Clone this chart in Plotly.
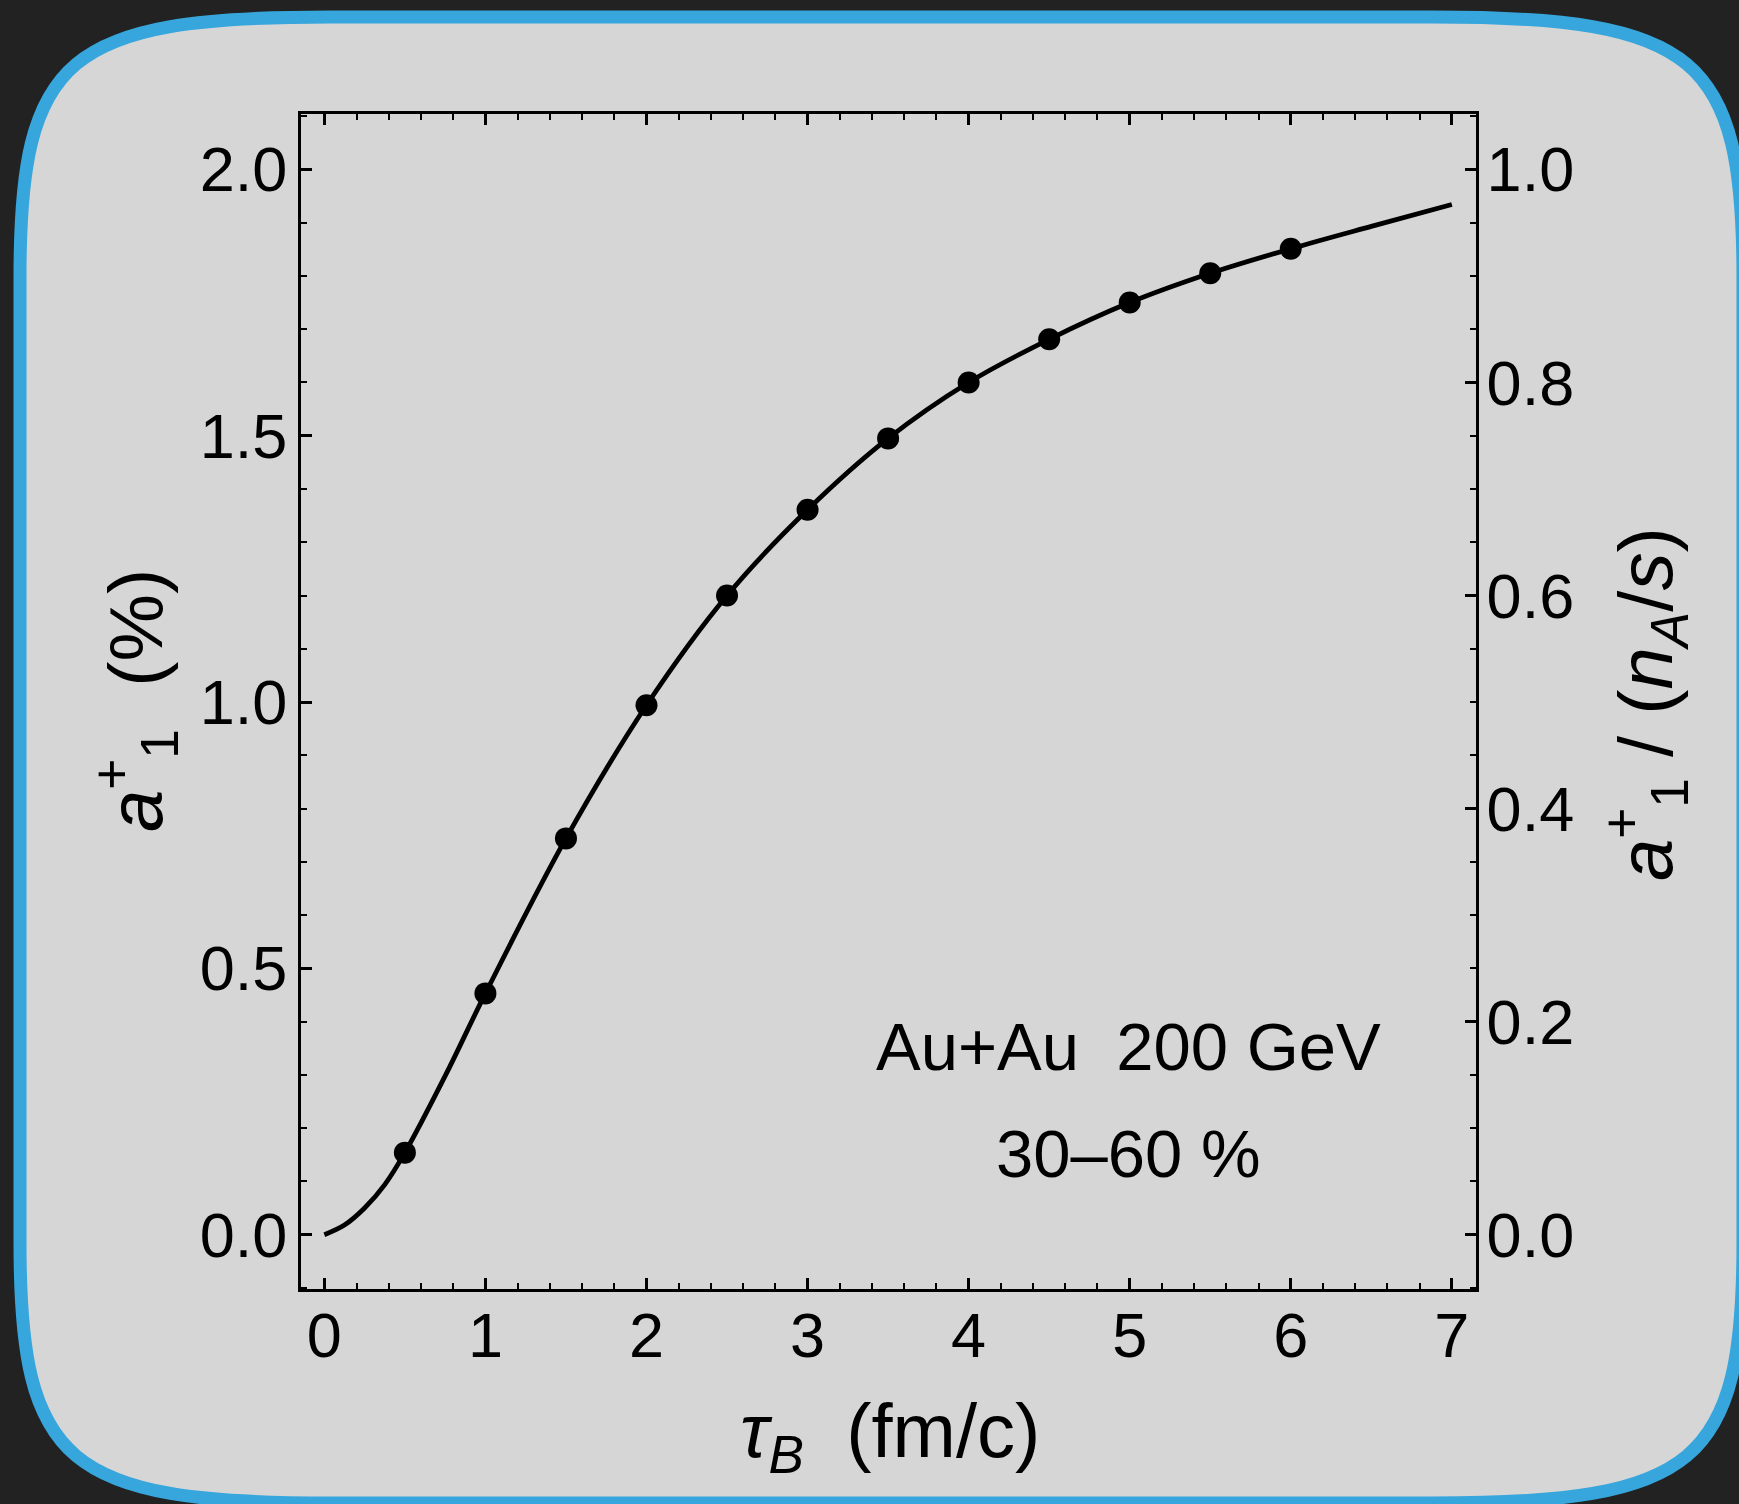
import plotly.graph_objects as go

# Smooth model curve a1+ (%) versus tau_B (fm/c)
curve_tau = [0.0, 0.125, 0.25, 0.375, 0.5, 0.75, 1.0, 1.5, 2.0, 2.5, 3.0, 3.5, 4.0, 4.5,
             5.0, 5.5, 6.0, 6.5, 7.0]
curve_a1 = [0.0, 0.018, 0.050, 0.094, 0.154, 0.298, 0.453, 0.744, 0.994, 1.200, 1.361,
            1.495, 1.600, 1.681, 1.750, 1.805, 1.851, 1.893, 1.934]

# Computed points shown as dots
point_tau = [0.5, 1.0, 1.5, 2.0, 2.5, 3.0, 3.5, 4.0, 4.5, 5.0, 5.5, 6.0]
point_a1 = [0.154, 0.453, 0.744, 0.994, 1.200, 1.361, 1.495, 1.600, 1.681, 1.750, 1.805, 1.851]

x_ticks = [0, 1, 2, 3, 4, 5, 6, 7]
y_left_ticks = [0.0, 0.5, 1.0, 1.5, 2.0]
y_right_ticks = [0.0, 0.2, 0.4, 0.6, 0.8, 1.0]

W, H = 1739, 1504
ML, MR, MT, MB = 301, 263, 114, 215
PW = W - ML - MR
PH = H - MT - MB

FONT = "Liberation Sans, Arial, sans-serif"
BG_DARK = "#222222"
PANEL = "#d6d6d6"
BLUE = "#36a6dc"


def px(x):
    return (x - ML) / PW


def py(y):
    return (H - MB - y) / PH


def rounded_panel(L, T, R, B, rx, ry, k):
    """Squircle-like rounded rectangle path in paper coordinates."""
    c = 1 - k
    pts = [
        ("M", [(L, T + ry)]),
        ("C", [(L, T + ry * c), (L + rx * c, T), (L + rx, T)]),
        ("L", [(R - rx, T)]),
        ("C", [(R - rx * c, T), (R, T + ry * c), (R, T + ry)]),
        ("L", [(R, B - ry)]),
        ("C", [(R, B - ry * c), (R - rx * c, B), (R - rx, B)]),
        ("L", [(L + rx, B)]),
        ("C", [(L + rx * c, B), (L, B - ry * c), (L, B - ry)]),
    ]
    s = ""
    for cmd, ps in pts:
        s += cmd + " " + " ".join(f"{px(a):.5f},{py(b):.5f}" for a, b in ps) + " "
    return s + "Z"


fig = go.Figure()

fig.add_trace(go.Scatter(
    x=curve_tau, y=curve_a1, mode="lines",
    line=dict(color="black", width=4.8, shape="spline", smoothing=1.0),
    hoverinfo="skip", showlegend=False,
))
fig.add_trace(go.Scatter(
    x=point_tau, y=point_a1, mode="markers",
    marker=dict(color="black", size=22),
    showlegend=False,
))
# Right-hand scale a1+/(n_A/s): an empty trace so the secondary axis is drawn
fig.add_trace(go.Scatter(x=[], y=[], yaxis="y2", showlegend=False, hoverinfo="skip"))

tick_font = dict(family=FONT, size=63, color="black")

fig.update_layout(
    width=W, height=H, autosize=False,
    margin=dict(l=ML, r=MR, t=MT, b=MB, pad=0),
    paper_bgcolor=BG_DARK,
    plot_bgcolor="rgba(0,0,0,0)",
    font=dict(family=FONT, color="black"),
    xaxis=dict(
        range=[-0.145, 7.15], tickvals=x_ticks, ticktext=[str(v) for v in x_ticks],
        ticks="inside", ticklen=11, tickwidth=2.5, tickcolor="black",
        minor=dict(dtick=0.2, tick0=0, ticks="inside", ticklen=6, tickwidth=2, tickcolor="black"),
        showline=True, linewidth=3, linecolor="black", mirror="ticks",
        showgrid=False, zeroline=False, tickfont=tick_font, ticklabelstandoff=-11,
    ),
    yaxis=dict(
        range=[-0.102, 2.104], tickvals=y_left_ticks,
        ticktext=[f"{v:.1f}" for v in y_left_ticks],
        ticks="inside", ticklen=11, tickwidth=2.5, tickcolor="black",
        minor=dict(dtick=0.1, tick0=0, ticks="inside", ticklen=6, tickwidth=2, tickcolor="black"),
        showline=True, linewidth=3, linecolor="black", mirror=False,
        showgrid=False, zeroline=False, tickfont=tick_font, ticklabelstandoff=-2,
    ),
    yaxis2=dict(
        overlaying="y", side="right", anchor="x",
        range=[-0.051, 1.052], tickvals=y_right_ticks,
        ticktext=[f"{v:.1f}" for v in y_right_ticks],
        ticks="inside", ticklen=11, tickwidth=2.5, tickcolor="black",
        minor=dict(dtick=0.05, tick0=0, ticks="inside", ticklen=6, tickwidth=2, tickcolor="black"),
        showline=True, linewidth=3, linecolor="black",
        showgrid=False, zeroline=False, tickfont=tick_font, ticklabelstandoff=-5,
    ),
    shapes=[dict(
        type="path", xref="paper", yref="paper", layer="below",
        path=rounded_panel(20, 17, 1743, 1503, 310, 260, 0.85),
        fillcolor=PANEL, line=dict(color=BLUE, width=13),
    )],
)

title_font = dict(family=FONT, size=76, color="black")
label_font = dict(family=FONT, size=67, color="black")
nb = "\u00a0"

fig.add_annotation(
    x=px(135), y=py(701), xref="paper", yref="paper", showarrow=False,
    text=f"<i>a</i><sup>+</sup><sub>1</sub>{nb}{nb}(%)", textangle=-90,
    xanchor="center", yanchor="middle", font=title_font,
)
fig.add_annotation(
    x=px(1645), y=py(704), xref="paper", yref="paper", showarrow=False,
    text=f"<i>a</i><sup>+</sup><sub>1</sub>{nb}/{nb}(<i>n</i><sub><i>A</i></sub>/<i>s</i>)",
    textangle=-90, xanchor="center", yanchor="middle", font=title_font,
)
fig.add_annotation(
    x=px(890), y=py(1436), xref="paper", yref="paper", showarrow=False,
    text=f"<i>τ</i><sub><i>B</i></sub>{nb}{nb}(fm/c)",
    xanchor="center", yanchor="middle", font=title_font,
)
fig.add_annotation(
    x=px(1128), y=py(1046), xref="paper", yref="paper", showarrow=False,
    text=f"Au+Au{nb}{nb}200 GeV", xanchor="center", yanchor="middle", font=label_font,
)
fig.add_annotation(
    x=px(1128), y=py(1153), xref="paper", yref="paper", showarrow=False,
    text="30–60 %", xanchor="center", yanchor="middle", font=label_font,
)

fig.write_html("out.html")
